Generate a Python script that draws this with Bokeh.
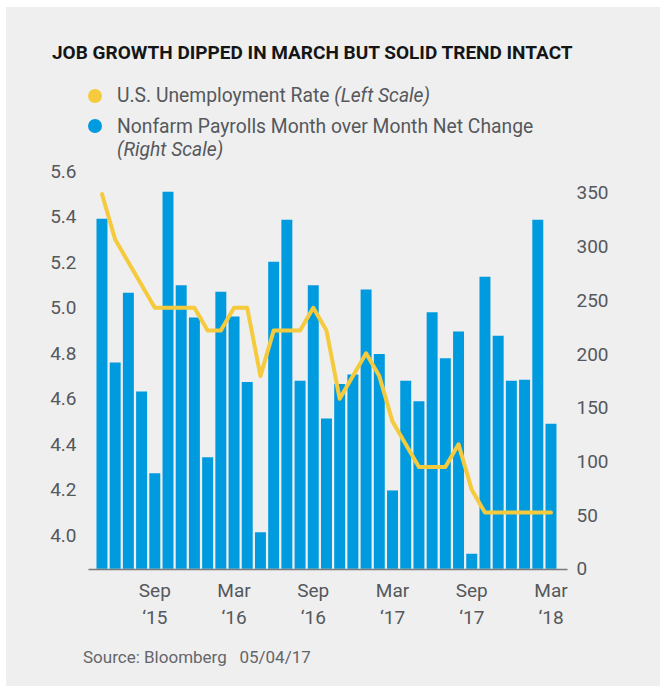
from bokeh.plotting import figure
from bokeh.layouts import column
from bokeh.models import Range1d, LinearAxis, FixedTicker, NumeralTickFormatter, Div
from bokeh.embed import file_html
from bokeh.resources import INLINE

# ---- data ----
months = ["May 15", "Jun 15", "Jul 15", "Aug 15", "Sep 15", "Oct 15", "Nov 15", "Dec 15",
          "Jan 16", "Feb 16", "Mar 16", "Apr 16", "May 16", "Jun 16", "Jul 16", "Aug 16",
          "Sep 16", "Oct 16", "Nov 16", "Dec 16", "Jan 17", "Feb 17", "Mar 17", "Apr 17",
          "May 17", "Jun 17", "Jul 17", "Aug 17", "Sep 17", "Oct 17", "Nov 17", "Dec 17",
          "Jan 18", "Feb 18", "Mar 18"]
payrolls = [326, 192, 257, 165, 89, 351, 264, 234, 104, 258, 235, 174, 34, 286, 325, 175,
            264, 140, 172, 181, 260, 200, 73, 175, 156, 239, 196, 221, 14, 272, 217, 175,
            176, 325, 135]
unemployment = [5.5, 5.3, 5.2, 5.1, 5.0, 5.0, 5.0, 5.0, 4.9, 4.9, 5.0, 5.0, 4.7, 4.9, 4.9, 4.9,
                5.0, 4.9, 4.6, 4.7, 4.8, 4.7, 4.5, 4.4, 4.3, 4.3, 4.3, 4.4, 4.2, 4.1, 4.1, 4.1,
                4.1, 4.1, 4.1]
xtick_pos = [4, 10, 16, 22, 28, 34]
xtick_labels = ["Sep\n\u201815", "Mar\n\u201816", "Sep\n\u201816", "Mar\n\u201817", "Sep\n\u201817", "Mar\n\u201818"]
left_ticks = [4.0, 4.2, 4.4, 4.6, 4.8, 5.0, 5.2, 5.4, 5.6]
right_ticks = [0, 50, 100, 150, 200, 250, 300, 350]
title_text = "JOB GROWTH DIPPED IN MARCH BUT SOLID TREND INTACT"
legend_names = ["U.S. Unemployment Rate", "Nonfarm Payrolls Month over Month Net Change"]
legend_scales = ["(Left Scale)", "(Right Scale)"]
source_text = "Source: Bloomberg&nbsp;&nbsp;&nbsp;05/04/17"

idx = list(range(len(months)))

BG = "#efefef"
BLUE = "#009bde"
YELLOW = "#f5ca3c"
TXT = "#55585c"
FONT = "Roboto"
W = 654
ASC = 0.842  # baseline offset (em) for line-height 1 with Roboto metrics


def txt(left, baseline, size, html, color=TXT, weight="normal", style="normal"):
    top = baseline - ASC * size
    return (f'<div style="position:absolute;left:{left}px;top:{top:.1f}px;font-size:{size}px;'
            f'line-height:{size}px;font-weight:{weight};font-style:{style};color:{color};'
            f'white-space:nowrap;">{html}</div>')


def dot(cx, cy, color, d=14):
    return (f'<div style="position:absolute;left:{cx - d / 2}px;top:{cy - d / 2}px;width:{d}px;'
            f'height:{d}px;border-radius:50%;background:{color};"></div>')


# ---- header: title + legend ----
H1 = 152
head_html = (
    f'<div style="position:relative;width:{W}px;height:{H1}px;background:{BG};'
    f'font-family:{FONT},sans-serif;overflow:visible;">'
    + txt(46, 52.3, 19, title_text, color="#151515", weight="bold")
    + dot(89, 89, YELLOW)
    + dot(89, 119.3, BLUE)
    + txt(111, 95.7, 19.3, f'{legend_names[0]} <i>{legend_scales[0]}</i>')
    + txt(111, 126.3, 19.3, legend_names[1])
    + txt(111, 149, 19.3, legend_scales[1], style="italic")
    + '</div>'
)
head = Div(text=head_html, width=W, height=H1, margin=0,
           styles={"background-color": BG, "overflow": "visible"})

# ---- main chart ----
p = figure(width=W, height=486, output_backend="svg", toolbar_location=None,
           x_range=Range1d(-1.02, 35.25), y_range=Range1d(3.850, 5.6255),
           min_border_left=82, min_border_right=93, min_border_top=6, min_border_bottom=76,
           margin=0)
p.extra_y_ranges = {"pay": Range1d(-0.6, 375.5)}
p.background_fill_color = BG
p.border_fill_color = BG
p.outline_line_color = None
p.xgrid.visible = False
p.ygrid.visible = False

p.vbar(x=idx, top=payrolls, width=0.83, y_range_name="pay", fill_color=BLUE, line_color=None)
p.line(idx, unemployment, line_width=4, line_color=YELLOW, line_cap="round", line_join="round")

xa = p.xaxis[0]
xa.ticker = FixedTicker(ticks=xtick_pos)
xa.major_label_overrides = {k: v for k, v in zip(xtick_pos, xtick_labels)}
xa.axis_line_color = "#7a7a7a"
xa.axis_line_width = 1.5
xa.major_tick_line_color = None
xa.minor_tick_line_color = None
xa.major_tick_out = 0
xa.major_label_standoff = 9
xa.major_label_text_font = FONT
xa.major_label_text_font_size = "19px"
xa.major_label_text_color = TXT

ya = p.yaxis[0]
ya.ticker = FixedTicker(ticks=left_ticks)
ya.formatter = NumeralTickFormatter(format="0.0")
ya.axis_line_color = None
ya.major_tick_line_color = None
ya.minor_tick_line_color = None
ya.major_tick_out = 0
ya.major_label_standoff = 12
ya.major_label_text_font = FONT
ya.major_label_text_font_size = "19px"
ya.major_label_text_color = TXT

ra = LinearAxis(y_range_name="pay", ticker=FixedTicker(ticks=right_ticks))
ra.axis_line_color = None
ra.major_tick_line_color = None
ra.minor_tick_line_color = None
ra.major_tick_out = 0
ra.major_label_standoff = 9
ra.major_label_text_font = FONT
ra.major_label_text_font_size = "19px"
ra.major_label_text_color = TXT
p.add_layout(ra, "right")

# ---- footer: source ----
H3 = 41
foot_html = (
    f'<div style="position:relative;width:{W}px;height:{H3}px;background:{BG};'
    f'font-family:{FONT},sans-serif;">'
    + txt(77, 18.3, 17, source_text, color="#64666a")
    + '</div>'
)
foot = Div(text=foot_html, width=W, height=H3, margin=0, styles={"background-color": BG})

layout = column(head, p, foot, spacing=0, margin=(7, 0, 0, 6),
                styles={"background-color": BG})

open("out.html", "w").write(file_html(layout, INLINE))
